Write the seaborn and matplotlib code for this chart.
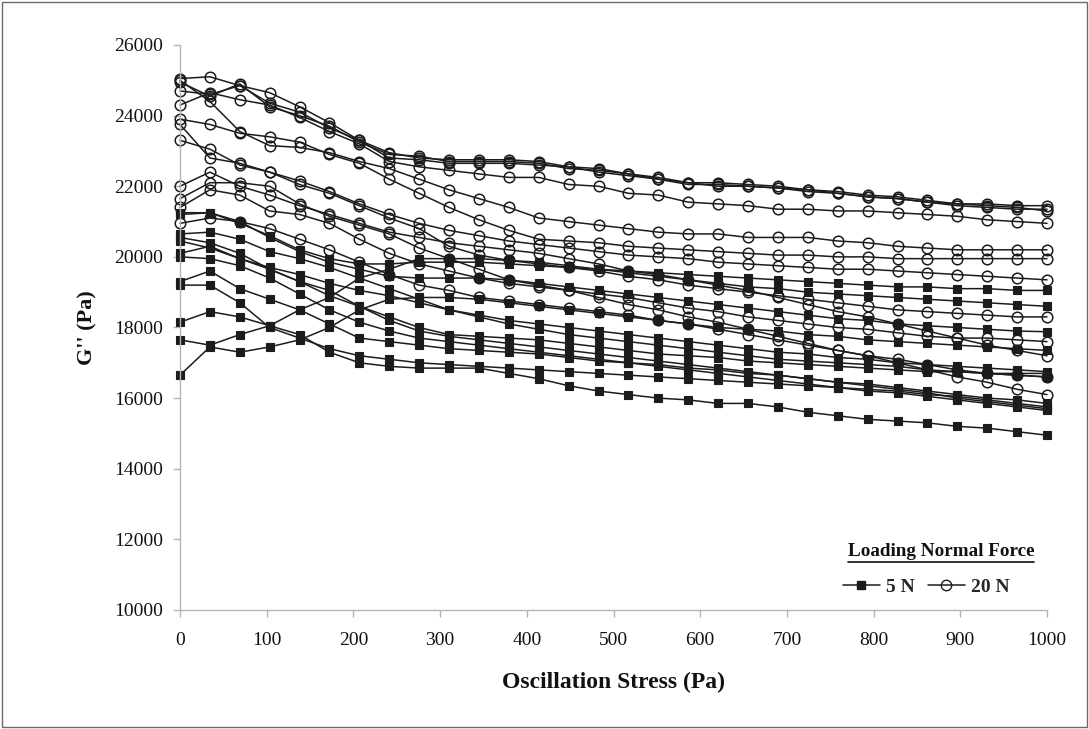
import matplotlib
matplotlib.use("Agg")
import matplotlib.pyplot as plt
import seaborn as sns
import pandas as pd
from matplotlib.lines import Line2D
from matplotlib.patches import Rectangle

stress = [0, 34.5, 69, 103.4, 137.9, 172.4, 206.9, 241.4, 275.9, 310.3,
          344.8, 379.3, 413.8, 448.3, 482.8, 517.2, 551.7, 586.2, 620.7, 655.2,
          689.7, 724.1, 758.6, 793.1, 827.6, 862.1, 896.6, 931.0, 965.5, 1000]

# 20 N runs (open circles)
c1 = [25050, 25100, 24850, 24650, 24250, 23800, 23300, 22950, 22800, 22750,
      22750, 22750, 22700, 22550, 22500, 22350, 22250, 22100, 22100, 22050,
      22000, 21900, 21850, 21750, 21700, 21600, 21500, 21500, 21450, 21450]
c2 = [24950, 24550, 24900, 24250, 24000, 23700, 23250, 22900, 22850, 22700,
      22700, 22700, 22650, 22500, 22450, 22350, 22200, 22050, 22050, 22000,
      21950, 21850, 21800, 21700, 21650, 21550, 21450, 21400, 21350, 21350]
c3 = [24700, 24600, 24850, 24350, 24100, 23650, 23300, 22800, 22750, 22650,
      22650, 22650, 22600, 22550, 22400, 22300, 22200, 22100, 22000, 22000,
      21950, 21900, 21800, 21700, 21650, 21550, 21500, 21450, 21400, 21300]
c4 = [24300, 24650, 24450, 24300, 23950, 23550, 23200, 22700, 22550, 22450,
      22350, 22250, 22250, 22050, 22000, 21800, 21750, 21550, 21500, 21450,
      21350, 21350, 21300, 21300, 21250, 21200, 21150, 21050, 21000, 20950]
c5 = [25000, 24400, 23550, 23150, 23100, 22950, 22700, 22500, 22200, 21900,
      21650, 21400, 21100, 21000, 20900, 20800, 20700, 20650, 20650, 20550,
      20550, 20550, 20450, 20400, 20300, 20250, 20200, 20200, 20200, 20200]
c6 = [23900, 23750, 23500, 23400, 23250, 22900, 22650, 22200, 21800, 21400,
      21050, 20750, 20500, 20450, 20400, 20300, 20250, 20200, 20150, 20100,
      20050, 20050, 20000, 20000, 19950, 19950, 19950, 19950, 19950, 19950]
c7 = [23750, 22800, 22650, 22400, 22150, 21850, 21500, 21200, 20950, 20750,
      20600, 20450, 20350, 20250, 20150, 20050, 20000, 19950, 19850, 19800,
      19750, 19700, 19650, 19650, 19600, 19550, 19500, 19450, 19400, 19350]
c8 = [23300, 23050, 22600, 22400, 22050, 21800, 21450, 21100, 20800, 20300,
      20050, 19900, 19800, 19700, 19600, 19450, 19350, 19200, 19100, 19000,
      18900, 18800, 18700, 18600, 18500, 18450, 18400, 18350, 18300, 18300]
c9 = [22000, 22400, 22000, 21750, 21450, 21200, 20950, 20700, 20550, 20400,
      20300, 20200, 20100, 19950, 19800, 19600, 19500, 19350, 19200, 19050,
      18850, 18650, 18450, 18300, 18100, 17900, 17700, 17500, 17350, 17200]
c10 = [21650, 22100, 22100, 22000, 21500, 21150, 20900, 20650, 20250, 19950,
       19650, 19350, 19200, 19050, 18850, 18650, 18500, 18300, 18150, 17950,
       17750, 17550, 17350, 17200, 17000, 16800, 16600, 16450, 16250, 16100]
c11 = [21400, 21900, 21750, 21300, 21200, 20950, 20500, 20100, 19800, 19600,
       19400, 19250, 19150, 19050, 18950, 18850, 18700, 18550, 18450, 18300,
       18200, 18100, 18000, 17950, 17850, 17750, 17700, 17700, 17650, 17600]
c12 = [20950, 21100, 21000, 20800, 20500, 20200, 19850, 19500, 19200, 19050,
       18850, 18750, 18650, 18550, 18450, 18350, 18200, 18100, 17950, 17800,
       17650, 17500, 17350, 17200, 17100, 16950, 16800, 16700, 16650, 16600]

# 5 N runs (filled squares)
s1 = [18150, 18450, 18300, 18050, 17800, 17300, 17000, 16900, 16850, 16850,
      16850, 16700, 16550, 16350, 16200, 16100, 16000, 15950, 15850, 15850,
      15750, 15600, 15500, 15400, 15350, 15300, 15200, 15150, 15050, 14950]
s2 = [17650, 17500, 17800, 18050, 18500, 18850, 19400, 19650, 19950, 19950,
      19950, 19900, 19850, 19750, 19650, 19550, 19450, 19350, 19250, 19150,
      19100, 19000, 18950, 18900, 18850, 18800, 18750, 18700, 18650, 18600]
s3 = [16650, 17450, 17300, 17450, 17650, 18000, 18500, 18800, 18850, 18850,
      18800, 18700, 18600, 18500, 18400, 18300, 18200, 18100, 18000, 17950,
      17900, 17800, 17750, 17650, 17600, 17550, 17500, 17450, 17400, 17350]
s5 = [21250, 21250, 21000, 20550, 20150, 19850, 19650, 19450, 19400, 19400,
      19400, 19350, 19250, 19150, 19050, 18950, 18850, 18750, 18650, 18550,
      18450, 18350, 18250, 18200, 18100, 18050, 18000, 17950, 17900, 17880]
s6 = [20650, 20700, 20500, 20150, 19950, 19700, 19400, 19100, 18800, 18500,
      18300, 18100, 17950, 17800, 17700, 17600, 17500, 17400, 17300, 17200,
      17100, 17050, 17000, 16950, 16900, 16800, 16750, 16700, 16650, 16600]
s7 = [20550, 20400, 20100, 19650, 19300, 18900, 18600, 18300, 18000, 17800,
      17750, 17700, 17650, 17550, 17450, 17350, 17250, 17200, 17150, 17050,
      17000, 16950, 16900, 16850, 16800, 16750, 16750, 16700, 16700, 16700]
s8 = [20100, 20300, 19950, 19650, 19300, 19050, 18600, 18200, 17900, 17750,
      17650, 17550, 17450, 17350, 17250, 17150, 17050, 16950, 16850, 16750,
      16650, 16550, 16450, 16350, 16250, 16150, 16000, 15900, 15800, 15700]
s9 = [20000, 19950, 19750, 19400, 18950, 18500, 18150, 17900, 17700, 17600,
      17500, 17400, 17300, 17200, 17100, 17000, 16900, 16800, 16700, 16600,
      16500, 16400, 16300, 16200, 16150, 16050, 15950, 15850, 15750, 15650]
s10 = [19300, 19600, 19100, 18800, 18500, 18100, 17700, 17600, 17500, 17400,
       17350, 17300, 17250, 17150, 17050, 17000, 16950, 16850, 16800, 16700,
       16650, 16550, 16450, 16400, 16300, 16200, 16100, 16000, 15950, 15850]
s11 = [19200, 19200, 18700, 18000, 17700, 17400, 17200, 17100, 17000, 16950,
       16900, 16850, 16800, 16750, 16700, 16650, 16600, 16550, 16500, 16450,
       16400, 16350, 16300, 16250, 16200, 16100, 16050, 15950, 15850, 15750]
s12 = [20450, 20250, 19950, 19700, 19500, 19250, 19050, 18900, 18700, 18500,
       18350, 18200, 18100, 18000, 17900, 17800, 17700, 17600, 17500, 17400,
       17300, 17250, 17150, 17100, 17000, 16950, 16900, 16850, 16800, 16750]
s13 = [21200, 21250, 20950, 20600, 20200, 19950, 19800, 19800, 19850, 19850,
       19850, 19800, 19750, 19700, 19650, 19600, 19550, 19500, 19450, 19400,
       19350, 19300, 19250, 19200, 19150, 19150, 19100, 19100, 19050, 19050]

runs_20 = [c1, c2, c3, c4, c5, c6, c7, c8, c9, c10, c11, c12]
runs_5 = [s1, s2, s3, s5, s6, s7, s8, s9, s10, s11, s12, s13]

x_ticks = [0, 100, 200, 300, 400, 500, 600, 700, 800, 900, 1000]
y_ticks = [10000, 12000, 14000, 16000, 18000, 20000, 22000, 24000, 26000]


def long_frame(runs, force):
    rows = []
    for k, r in enumerate(runs):
        for xv, yv in zip(stress, r):
            rows.append({"stress": xv, "G": yv, "run": f"{force}-{k}", "force": force})
    return pd.DataFrame(rows)


df20 = long_frame(runs_20, "20 N")
df5 = long_frame(runs_5, "5 N")

sns.set_theme(style="white")
plt.rcParams["font.family"] = ["Liberation Serif", "DejaVu Serif"]

W, H = 1089, 729
fig = plt.figure(figsize=(W / 100, H / 100), dpi=100)
ax = fig.add_axes([180 / W, 1 - 610 / H, (1047 - 180) / W, (610 - 45) / H])

ink = "#1c1c1c"
sns.lineplot(data=df20, x="stress", y="G", units="run", estimator=None, sort=False,
             color=ink, lw=1.1, marker="o", markersize=7.6, markerfacecolor="none",
             markeredgecolor=ink, markeredgewidth=1.1, legend=False, ax=ax,
             clip_on=False)
sns.lineplot(data=df5, x="stress", y="G", units="run", estimator=None, sort=False,
             color=ink, lw=1.1, marker="s", markersize=5.6, markerfacecolor=ink,
             markeredgecolor=ink, markeredgewidth=0.8, legend=False, ax=ax,
             clip_on=False)

ax.set_xlim(0, 1000)
ax.set_ylim(10000, 26000)
ax.set_xticks(x_ticks)
ax.set_yticks(y_ticks)
ax.set_xticklabels([str(t) for t in x_ticks])
ax.set_yticklabels([str(t) for t in y_ticks])

for side in ["top", "right"]:
    ax.spines[side].set_visible(False)
for side in ["left", "bottom"]:
    ax.spines[side].set_color("#b5b5b5")
    ax.spines[side].set_linewidth(1.0)
ax.tick_params(axis="both", which="major", direction="out", length=5, width=1,
               color="#b5b5b5", labelsize=14, labelcolor="#111111",
               bottom=True, left=True)
ax.tick_params(axis="x", pad=11)
ax.tick_params(axis="y", pad=7)
ax.grid(False)

ax.set_xlabel("Oscillation Stress (Pa)", fontsize=17, fontweight="bold",
              color="#111111", labelpad=16)
ax.set_ylabel("G'' (Pa)", fontsize=16, fontweight="bold", color="#111111",
              labelpad=12)

# legend
handles = [
    Line2D([], [], color=ink, lw=1.1, marker="s", markersize=6,
           markerfacecolor=ink, markeredgecolor=ink),
    Line2D([], [], color=ink, lw=1.1, marker="o", markersize=7.5,
           markerfacecolor="none", markeredgecolor=ink),
]
leg = fig.legend(handles, ["5 N", "20 N"], loc="center",
                 bbox_to_anchor=(926 / W, 1 - 587 / H), bbox_transform=fig.transFigure,
                 ncol=2, frameon=False, handlelength=1.9, handletextpad=0.3,
                 columnspacing=0.7,
                 prop={"family": ["Liberation Serif"], "weight": "bold", "size": 14})

title = fig.text(941 / W, 1 - 552 / H, "Loading Normal Force", ha="center",
                 va="center", fontsize=13.8, fontweight="bold", color="#111111")
fig.canvas.draw()
bb = title.get_window_extent(renderer=fig.canvas.get_renderer())
inv = fig.transFigure.inverted()
(x0, y0), (x1, _) = inv.transform([(bb.x0, bb.y0 - 1.5), (bb.x1, bb.y0)])
fig.add_artist(Line2D([x0, x1], [y0, y0], transform=fig.transFigure,
                      color="#111111", lw=1.2))

# outer frame
fig.add_artist(Rectangle((2 / W, 2 / H), 1 - 4 / W, 1 - 4 / H,
                         transform=fig.transFigure, fill=False,
                         edgecolor="#6a6a6a", lw=1.0))

fig.savefig("out.png", dpi=100, facecolor="white")
